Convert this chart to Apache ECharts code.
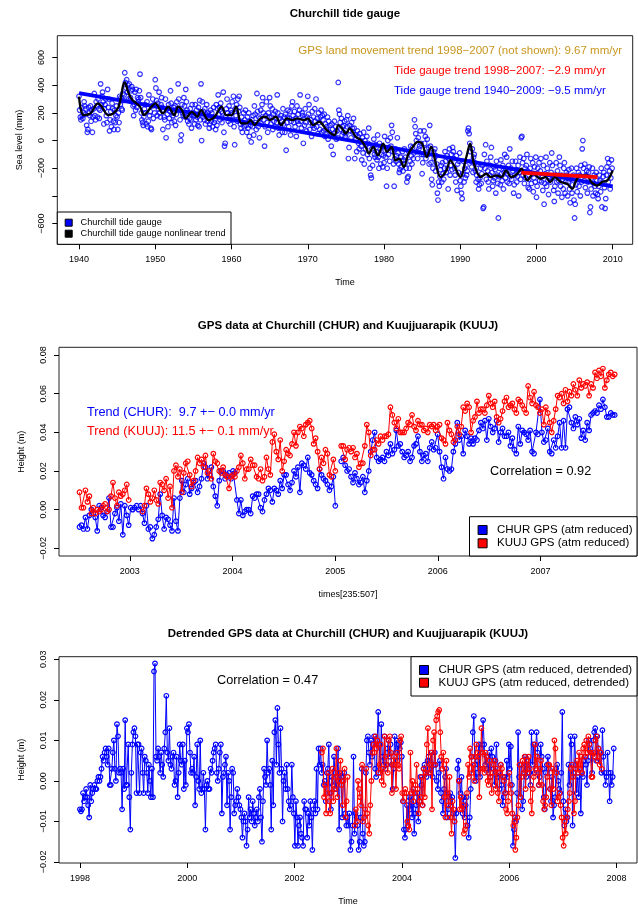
<!DOCTYPE html>
<html><head><meta charset="utf-8">
<script src="https://cdn.jsdelivr.net/npm/echarts@6/dist/echarts.min.js"></script>
<style>html,body{margin:0;padding:0;background:#fff}#c{width:638px;height:907px}</style>
</head><body><div id="c"></div>
<script>
// ---------- Panel 1: Churchill tide gauge (monthly, mm) ----------
const tideStartYear = 1940;
const tideMonthly = [
320,220,170,150,240,180,160,200,280,250,190,230,
110,60,80,240,200,180,250,140,220,60,170,230,
340,180,150,280,250,170,300,230,160,220,410,260,
320,350,280,120,230,260,300,180,130,370,240,300,
70,150,210,100,270,230,140,80,220,130,180,250,
170,80,200,130,320,260,310,230,220,340,290,330,
490,420,380,440,350,400,300,410,290,310,360,390,
370,250,180,260,350,220,370,240,310,280,300,360,
480,310,200,150,130,110,170,230,260,200,120,280,
100,140,330,180,210,90,80,250,300,160,260,200,
440,380,290,180,270,230,350,200,170,260,310,240,
80,220,170,150,300,20,230,190,100,260,160,210,
360,270,130,200,180,240,140,250,110,190,280,230,
410,300,220,150,0,40,260,200,180,310,250,170,
370,280,220,140,200,120,160,230,150,90,260,190,
200,180,120,260,150,220,170,110,240,100,290,150,
410,0,280,170,210,150,230,120,190,260,140,200,
180,90,120,220,140,200,100,170,240,130,150,80,
260,110,230,330,190,240,150,270,210,130,200,350,
60,-40,-20,170,230,300,200,140,250,180,120,220,
200,280,150,320,100,-30,230,180,260,140,300,210,
320,240,120,90,170,60,130,200,100,150,220,110,
60,170,90,200,30,140,110,-10,150,100,180,40,
250,190,130,80,340,210,100,170,20,160,220,120,
260,310,200,150,-40,100,180,280,130,60,200,170,
310,250,120,170,230,80,190,140,100,210,160,130,
330,200,90,40,160,110,180,140,60,230,120,170,
60,190,-70,130,170,220,100,160,210,40,140,250,
280,180,130,210,100,160,30,250,140,190,120,220,
330,140,90,200,180,-20,160,110,230,130,70,170,
320,190,260,80,130,150,30,210,110,170,90,230,
140,300,100,160,50,200,130,80,170,220,60,180,
150,70,190,30,120,80,100,170,10,140,60,110,
40,-40,120,80,-100,30,140,60,100,10,70,20,
420,220,190,130,80,160,40,100,60,110,140,30,
50,150,100,180,-130,-50,110,70,20,130,90,60,
160,90,-130,40,10,-80,70,30,-20,-60,50,0,
-40,-140,20,-90,60,-170,0,-60,-30,30,-100,-20,
90,-130,-200,-250,-270,-60,-180,-40,10,-100,-120,-30,
-80,-140,40,-120,-200,-20,-60,-170,-100,-40,-190,-110,
-160,30,-70,-120,-330,-200,0,-100,-50,-150,20,-40,
110,60,-80,-170,-330,-130,-60,-150,-110,20,-90,-170,
-230,-210,-120,-190,-150,-80,-220,-140,-60,-170,-120,-200,
-300,-270,-260,-80,-200,-150,-40,-110,-170,-50,-130,-90,
150,100,50,0,-80,-130,20,-60,-40,70,-20,-100,
-240,-160,-100,70,-20,30,-130,-60,10,-100,-50,-170,
110,-40,-160,-280,-320,-200,-80,-130,-60,-220,-110,-170,
-380,-430,-300,-330,-260,-210,-180,-300,-160,-240,-280,-200,
-80,-150,-230,-110,-200,-350,-130,-60,-250,-180,-100,-210,
-50,-80,-130,-200,-250,-300,-110,-360,-170,-230,-150,-90,
-290,-330,-380,-420,-240,-150,-300,-200,-270,-180,-250,-220,
70,90,50,-20,-80,-150,-190,-60,-230,-120,-100,-160,
-220,-300,-250,-170,-280,-350,-320,-270,-200,-310,-240,-180,
-490,-480,-100,-200,-30,-280,-150,-220,-300,-350,-250,-180,
-120,-50,-230,-330,-290,-190,-270,-210,-380,-150,-250,-310,
-560,-260,-200,-320,-140,-240,-290,-180,-350,-230,-100,-270,
-210,-120,-300,-240,-180,-310,-60,-260,-200,-280,-150,-220,
-380,-320,-250,-150,-210,-300,-260,-180,-400,-230,-120,-280,
20,30,-160,-250,-130,-310,-200,-270,-180,-100,-220,-340,
-280,-350,-200,-130,-310,-240,-160,-370,-270,-190,-300,-120,
-410,-330,-200,-250,-160,-290,-220,-130,-300,-260,-360,-180,
-460,-310,-240,-120,-330,-200,-290,-390,-270,-160,-300,-230,
-90,-180,-270,-360,-440,-330,-250,-160,-300,-220,-380,-290,
-120,-180,-330,-250,-410,-280,-350,-200,-160,-380,-300,-230,
-250,-400,-300,-210,-350,-450,-280,-200,-380,-320,-250,-430,
-560,-460,-320,-200,-370,-280,-230,-330,-250,-400,-180,-300,
-60,0,-200,-290,-170,-340,-250,-220,-380,-300,-230,-190,
-520,-480,-350,-270,-200,-400,-310,-250,-330,-380,-230,-290,
-390,-420,-330,-250,-290,-370,-200,-480,-300,-260,-230,-340,
-490,-420,-250,-190,-130,-300,-160,-220,-350,-270,-140,-200
];
const trendAllYears = [1940, 2010];
const trendAllLevel = [343, -332];
const trendRecentYears = [1998, 2008];
const trendRecentLevel = [-232, -264];
const nlYears = [1940,1940.6,1941.5,1942.5,1943,1943.8,1944.5,1945.2,1946,1946.5,1947,1948,1948.5,1949.5,1950,1951,1951.7,1952.5,1953,1953.5,1954,1954.8,1955.5,1956,1957,1957.8,1958.7,1959.3,1960,1960.6,1961.3,1962,1962.5,1963,1963.8,1964.5,1965,1965.8,1966.5,1967.3,1968,1968.6,1969.5,1970,1970.7,1971.5,1972.5,1973.5,1974,1974.5,1975,1975.5,1976.3,1977,1977.7,1978,1978.6,1979.2,1979.9,1980.4,1981,1981.5,1982,1982.6,1983.2,1983.8,1984.4,1985,1985.6,1986.2,1986.7,1987.4,1988.2,1988.7,1989.3,1990,1990.8,1991.3,1991.8,1992.7,1993.4,1994,1994.7,1995.4,1996,1996.7,1997.5,1998,1998.8,1999.6,2000.5,2001.2,2001.8,2002.4,2003.2,2004,2004.7,2005.2,2005.8,2006.6,2007.2,2008,2008.6,2009.3,2010];
const nlLevel = [318,184,196,269,245,184,196,245,420,342,293,245,184,245,269,196,245,184,245,220,160,208,172,220,148,172,245,184,184,245,124,124,148,112,160,172,148,172,112,160,148,160,148,160,112,136,75,39,112,87,51,87,27,2,-58,-95,-46,-107,-22,-82,-46,-143,-131,-192,-95,-46,-10,-22,-119,-46,-143,-264,-216,-143,-192,-264,-119,-22,-167,-264,-240,-264,-252,-264,-216,-264,-240,-204,-288,-240,-276,-264,-300,-264,-300,-313,-349,-288,-252,-252,-300,-325,-300,-288,-216];
const p1XTicks = [1940,1950,1960,1970,1980,1990,2000,2010];
const p1YTicks = [-600,-400,-200,0,200,400,600];
const p1YLabels = [-600,-200,0,200,400,600];

// ---------- Panel 2: GPS heights (weekly, m) ----------
const gpsStartYear = 2002.51;
const weekYears = 7 / 365.25;
const churHeight = [
-.009,-.008,-.010,-.004,-.010,-.003,.000,-.002,-.004,-.011,.002,.001,-.003,
-.004,-.001,.006,-.009,-.009,-.002,.001,-.006,.003,-.013,.002,-.003,-.008,
.001,.000,.001,.002,.000,.002,-.002,-.007,.002,-.010,-.009,-.015,-.013,
-.009,-.005,.008,-.003,-.010,-.004,-.005,-.008,-.011,.006,-.006,-.011,.006,
.015,.009,.013,.016,.008,.011,.014,.015,.009,.012,.016,.024,.022,
.016,.018,.022,.012,.007,.002,.015,.020,.020,.016,.018,.019,.016,
.020,.019,.005,-.002,.005,-.003,-.001,.000,.000,-.002,.007,.006,.008,
.008,.001,-.001,.005,.008,.011,.010,.004,.011,.010,.008,.015,.011,
.018,.018,.013,.010,.014,.020,.017,.022,.009,.024,.023,.021,.027,
.019,.018,.015,.013,.011,.021,.018,.016,.015,.013,.010,.012,.017,
.002,null,null,.025,.027,.023,.020,.021,.017,.014,.019,.016,.013,
.014,.017,.009,.015,.020,.030,.036,.040,.027,.025,.026,.027,.025,
.030,.028,.034,.029,.031,.041,.033,.034,.030,.027,.028,.030,.025,
.027,.033,.034,.038,.030,.025,.028,.029,.025,.032,.035,.031,.032,
.039,.030,.022,.016,.027,.021,.020,.021,.030,.034,.045,.036,.038,
.029,.041,.038,.034,.037,.034,.037,.036,.041,.045,.042,.046,.036,
.047,.043,.040,.042,.046,.035,.040,.042,.038,.038,.040,.033,.037,
.031,.029,.043,.034,.041,.040,.039,.036,.041,.030,.029,.040,.039,
.057,.040,.035,.036,.042,.030,.029,.036,.032,.038,.045,.032,.046,
.032,.052,.053,.045,.042,.048,.044,.047,.037,.041,.036,.045,.041,
.049,.050,.051,.050,.054,.052,.057,.053,.048,.048,.050,.049,.049
];
const kuujHeight = [
.009,.001,.001,.010,.004,.007,-.002,.001,-.002,.000,-.001,.000,.002,
.003,-.001,.000,.007,.014,.006,.002,.009,.007,.008,.010,.013,.005,
null,null,null,null,null,null,-.001,.002,.011,.008,.004,.006,.010,
.005,.003,.014,.013,.010,.016,.006,.012,.001,.020,.023,.017,.021,
.009,.019,.024,.025,.018,.012,.015,.020,.027,.024,.026,.022,.028,
.019,.020,.016,.029,.025,.024,.020,.019,.022,.018,.017,.011,.017,
.018,.017,.020,.022,.028,.024,.016,.021,.021,.026,.023,.023,.017,
.016,.021,.015,.017,.027,.021,.018,.035,.039,.030,.026,.036,.020,
.025,.031,.029,.028,.034,.040,.033,.040,.043,.042,.038,.044,.045,
.046,.042,.034,.037,.030,.021,.027,.024,.031,.029,.018,.017,.026,
.020,null,null,.033,.033,.026,.031,.032,.030,.032,.027,.029,.022,
.024,.024,.033,.044,.040,.028,.031,.031,.036,.034,.038,.036,.038,
.038,.039,.053,.049,.045,.042,.047,.040,.040,.040,.042,.045,.044,
.049,.043,.041,.046,.044,.044,.041,.042,.040,.044,.043,.044,.041,
.043,.044,.037,.036,.034,.045,.041,.039,.035,.036,.043,.039,.043,
.053,.051,.055,.053,.040,.046,.048,.056,.050,.052,.052,.050,.054,
.059,.055,.053,.056,.048,.045,.047,.051,.056,.058,.053,.054,.055,
.052,.050,.057,.056,.054,.052,.050,.064,.058,.055,.061,.054,.053,
.050,.052,.044,.053,.050,.045,.040,.046,.052,.059,.058,.060,.055,
.062,.056,.061,.059,.065,.062,.059,.067,.063,.065,.064,.066,.059,
.065,.063,.071,.068,.072,.069,.073,.063,.067,.070,.071,.069,.070
];
const p2XTicks = [2003,2004,2005,2006,2007];
const p2YTicks = [-0.02,0,0.02,0.04,0.06,0.08];

// ---------- Panel 3: detrended GPS heights (weekly, m) ----------
const churDetStartYear = 1998.0;
const churDetrended = [
-.007,-.0075,-.007,-.003,-.005,-.004,-.002,-.004,-.006,-.009,-.001,-.005,-.003,-.002,-.001,-.002,-.002,.000,.001,.000,.001,.003,.006,.005,.007,.008,
.006,.004,.008,-.001,-.001,.003,.007,.010,.003,.000,.014,.011,.002,.003,.002,-.007,.003,-.002,.015,-.001,-.001,.009,-.004,-.012,.002,.009,
.012,.013,.011,-.003,.009,.009,-.003,.007,.008,.002,-.003,.006,.005,.002,-.003,.004,.000,-.004,.003,-.004,.027,.029,.006,.005,.008,.006,
.002,.007,.004,.001,.008,.012,.021,.007,.005,.013,.004,.003,.006,.007,-.001,.000,.006,-.004,.002,.009,.005,.004,.009,-.002,.005,-.001,
.013,.012,.014,.007,.002,.003,.002,.006,-.006,.001,.009,.000,-.002,.010,-.003,-.002,.002,-.002,-.012,-.001,.000,-.002,-.002,.003,.002,.005,
.007,.008,.009,.002,.000,.003,.007,.009,-.008,.001,.002,.004,.006,-.006,.002,.000,-.012,-.004,.003,.002,-.008,-.006,-.005,-.002,-.004,-.006,
-.007,-.009,-.014,-.010,-.008,-.010,-.016,-.012,-.004,-.009,-.007,-.010,-.005,-.008,-.011,-.009,-.007,-.010,-.004,-.002,-.009,-.015,-.005,.003,.001,-.001,
.010,.002,.003,-.001,-.012,.005,-.006,.012,.015,.004,.018,.009,.002,.013,.003,-.010,.000,.002,-.002,.004,-.002,-.005,-.007,-.006,.004,-.004,
-.008,-.016,-.005,-.009,-.016,-.011,-.009,-.013,-.014,-.016,-.005,-.007,-.007,-.014,-.008,-.011,-.005,-.009,-.017,-.007,-.005,-.008,.003,-.007,.008,.004,
.008,.002,.004,-.001,.000,-.005,.002,.003,.009,-.003,-.007,.001,-.001,.006,.002,-.002,.000,.008,-.012,.002,.001,-.009,.001,.002,-.008,-.011,
-.009,-.011,-.008,-.017,-.015,-.011,.006,-.013,-.008,-.009,-.011,-.017,-.015,-.009,.003,-.013,-.016,-.015,.002,.010,.011,.007,.004,.010,.006,.009,
.011,.003,.001,.010,.017,.009,.002,.014,.006,.004,.011,.003,.004,.008,.010,.006,.009,.004,-.002,.003,.011,.007,.010,.005,.009,.008,
.0095,.006,-.005,-.012,-.014,-.012,-.006,-.011,-.004,-.007,-.004,-.009,-.002,-.013,-.008,-.006,-.003,-.010,-.005,.001,-.001,-.006,.003,.004,.002,.001,
.005,.006,.003,.002,.007,.001,.004,.007,.004,.000,-.002,.002,.005,-.003,-.005,-.008,-.002,.001,.003,-.009,-.007,-.004,-.003,-.006,-.004,-.008,
-.010,-.019,-.008,.003,.005,.000,-.003,.001,-.008,-.004,-.009,-.006,-.004,-.011,-.014,-.009,-.002,.006,.012,.016,.004,.000,.002,.005,.009,.001,
.008,.009,.015,.009,.004,.006,.003,.002,.007,.001,.008,.006,.003,-.001,.005,.009,.001,.002,-.002,.004,-.001,-.006,-.004,.001,-.003,.005,
.001,.009,.003,.0085,-.001,-.016,-.012,-.009,-.010,-.003,.012,.001,-.004,.004,-.007,-.005,.002,.006,.001,.003,.005,.002,-.001,.012,.004,.009,
.002,.008,.012,.007,-.001,.001,.009,.006,.003,-.004,-.007,.002,.004,.006,.003,-.002,-.005,.001,-.009,-.006,-.004,.003,.004,.000,-.002,-.003,
.002,.017,-.005,-.011,-.007,-.010,-.009,.004,-.001,.011,.009,-.011,.002,.011,.004,-.003,.001,-.004,.003,-.008,.002,.001,.005,.006,.004,-.001,
.005,.010,.008,.007,.002,.010,.012,.013,.005,.011,.008,.007,.007,.002,.0125,.006,.002,-.001,.001,.007,.002,-.005,.002,-.001,.001,.008
];
const kuujDetStartYear = 2002.51;
const kuujDetrended = [
.007,.008,-.004,-.001,-.008,-.003,.002,-.005,-.008,-.003,.003,-.005,-.002,.001,.008,-.004,.000,.002,.005,-.001,-.006,.000,.003,-.009,-.005,.001,
null,null,null,null,null,null,-.011,-.007,-.010,.000,-.002,-.004,-.006,.004,-.010,-.009,-.007,.003,-.008,-.011,-.013,-.006,.000,.007,.009,.007,
.011,.008,.010,.002,.004,.009,.000,.003,-.001,.011,.006,.004,.002,.010,.011,.007,-.003,.004,.006,.004,-.002,.007,.004,.003,.010,.011,
-.003,-.005,-.003,-.002,-.003,-.010,-.011,-.012,.007,-.003,.000,-.005,-.003,-.001,.004,-.002,-.008,-.005,-.004,.001,-.006,.003,-.004,.002,.009,.013,
.002,.004,.007,-.007,.010,.012,.004,.015,.016,.017,.0175,.012,.006,.003,.007,-.004,-.009,.005,-.003,-.006,.001,-.009,-.013,-.005,-.007,-.010,
null,null,null,.000,-.007,-.004,-.007,-.006,-.013,-.012,-.011,-.003,.004,.001,.008,.006,.002,.004,.000,.006,.009,.007,.006,-.004,.003,.013,
.007,.003,.002,.007,.006,.000,-.001,.005,.001,-.003,.002,.004,.005,-.002,.003,-.003,-.005,.002,.004,.003,.001,.000,-.003,-.007,-.008,-.005,
.002,-.001,-.003,-.008,-.011,-.010,-.017,-.014,-.009,-.006,.004,-.004,.001,.005,.002,.006,-.002,.005,.002,.006,.003,-.005,-.008,-.002,.001,.009,
.003,.006,.002,-.001,.003,.005,-.001,-.005,-.007,-.006,-.004,.001,.004,.004,-.002,-.006,.003,-.002,.010,.008,.002,-.005,-.004,-.003,-.006,-.009,
-.014,-.016,-.010,-.013,-.009,-.007,-.005,-.003,.003,.004,.001,-.008,-.005,.003,.005,.002,.007,.003,.006,.002,.008,.009,.006,.010,.007,.011,
.009,.007,.001,.001,.007,.006,.010,.011,.005,.008,.004,.007,.003
];
const p3XTicks = [1998,2000,2002,2004,2006,2008];
const p3YTicks = [-0.02,-0.01,0,0.01,0.02,0.03];

// ---------- build ----------
const FONT = '"Liberation Sans", Arial, Helvetica, sans-serif';
const BLUE = '#0000FF', RED = '#FF0000';
const minus = s => String(s).replace('-', '\u2212');

function weekly(start, arr) {
  return arr.map((v, i) => [start + i * weekYears, v === null ? '-' : v]);
}
function pairs(xs, ys) { return xs.map((x, i) => [x, ys[i]]); }

function xAx(grid, min, max, ticks, name) {
  return {
    type: 'value', gridIndex: grid, min: min, max: max, position: 'bottom',
    axisLine: {show: false, onZero: false},
    splitLine: {show: false},
    axisTick: {show: true, customValues: ticks, length: 5, lineStyle: {color: '#000', width: 1}},
    axisLabel: {customValues: ticks, margin: 11, fontSize: 9, fontFamily: FONT, color: '#000', formatter: v => minus(v)},
    name: name, nameLocation: 'middle', nameGap: 34,
    nameTextStyle: {fontSize: 9, fontFamily: FONT, color: '#000'}
  };
}
function yAx(grid, min, max, ticks, labels, name, fmt) {
  return {
    type: 'value', gridIndex: grid, min: min, max: max, position: 'left',
    axisLine: {show: false, onZero: false},
    splitLine: {show: false},
    axisTick: {show: true, customValues: ticks, length: 5, lineStyle: {color: '#000', width: 1}},
    axisLabel: {customValues: labels, rotate: 90, margin: 11, fontSize: 9, fontFamily: FONT, color: '#000', formatter: fmt},
    name: name, nameLocation: 'middle', nameGap: 33, nameRotate: 90,
    nameTextStyle: {fontSize: 9, fontFamily: FONT, color: '#000'}
  };
}
const gridBase = {show: true, borderColor: '#222', borderWidth: 1, backgroundColor: 'transparent', containLabel: false};

const openCircle = (c) => ({color: 'rgba(0,0,0,0)', borderColor: c, borderWidth: 1.2});

const series = [
  {type: 'scatter', name: 'Churchill tide gauge', xAxisIndex: 0, yAxisIndex: 0,
   data: tideMonthly.map((v, i) => [tideStartYear + i / 12, v]),
   symbol: 'circle', symbolSize: 4.6, itemStyle: openCircle(BLUE), z: 2},
  {type: 'line', name: 'Tide gauge trend 1940-2009', xAxisIndex: 0, yAxisIndex: 0,
   data: pairs(trendAllYears, trendAllLevel), symbol: 'none',
   lineStyle: {color: BLUE, width: 3.8}, z: 3},
  {type: 'line', name: 'Churchill tide gauge nonlinear trend', xAxisIndex: 0, yAxisIndex: 0,
   data: pairs(nlYears, nlLevel), symbol: 'none', smooth: 0.35,
   lineStyle: {color: '#000', width: 2.3}, z: 4},
  {type: 'line', name: 'Tide gauge trend 1998-2007', xAxisIndex: 0, yAxisIndex: 0,
   data: pairs(trendRecentYears, trendRecentLevel), symbol: 'none',
   lineStyle: {color: RED, width: 3.8}, z: 5},

  {type: 'line', name: 'CHUR GPS (atm reduced)', xAxisIndex: 1, yAxisIndex: 1,
   data: weekly(gpsStartYear, churHeight), symbol: 'circle', symbolSize: 4.6, showSymbol: true,
   itemStyle: openCircle(BLUE), lineStyle: {color: BLUE, width: 1}, connectNulls: false, z: 3},
  {type: 'line', name: 'KUUJ GPS (atm reduced)', xAxisIndex: 1, yAxisIndex: 1,
   data: weekly(gpsStartYear, kuujHeight), symbol: 'circle', symbolSize: 4.6, showSymbol: true,
   itemStyle: openCircle(RED), lineStyle: {color: RED, width: 1}, connectNulls: false, z: 4},

  {type: 'line', name: 'CHUR GPS (atm reduced, detrended)', xAxisIndex: 2, yAxisIndex: 2,
   data: weekly(churDetStartYear, churDetrended), symbol: 'circle', symbolSize: 4.6, showSymbol: true,
   itemStyle: openCircle(BLUE), lineStyle: {color: BLUE, width: 1}, connectNulls: false, z: 3},
  {type: 'line', name: 'KUUJ GPS (atm reduced, detrended)', xAxisIndex: 2, yAxisIndex: 2,
   data: weekly(kuujDetStartYear, kuujDetrended), symbol: 'circle', symbolSize: 4.6, showSymbol: true,
   itemStyle: openCircle(RED), lineStyle: {color: RED, width: 1}, connectNulls: false, z: 4}
];

function txt(x, y, text, size, color, align, bold) {
  return {type: 'text', x: x, y: y, z: 100, silent: true,
    style: {text: text, fill: color, align: align, verticalAlign: 'middle',
      font: (bold ? 'bold ' : '') + size + 'px ' + FONT}};
}
function legendBox(x0, y0, x1, y1, items, sq, sqX, textX, size) {
  const els = [{type: 'rect', z: 90, silent: true, shape: {x: x0, y: y0, width: x1 - x0, height: y1 - y0},
    style: {fill: '#fff', stroke: '#000', lineWidth: 1}}];
  items.forEach(it => {
    els.push({type: 'rect', z: 91, silent: true, shape: {x: sqX - sq / 2, y: it.y - sq / 2, width: sq, height: sq},
      style: {fill: it.color, stroke: '#000', lineWidth: 1}});
    els.push(txt(textX, it.y, it.label, size, '#000', 'left', false));
  });
  return els;
}

const graphics = [
  txt(345, 14, 'Churchill tide gauge', 11.5, '#000', 'center', true),
  txt(622, 50.5, 'GPS land movement trend 1998\u22122007 (not shown): 9.67 mm/yr', 11.5, '#C8961E', 'right', false),
  txt(394, 71, 'Tide gauge trend 1998\u22122007: \u22122.9 mm/yr', 11.5, RED, 'left', false),
  txt(394, 91.3, 'Tide gauge trend 1940\u22122009: \u22129.5 mm/yr', 11.5, BLUE, 'left', false),
  ...legendBox(57.3, 212, 231, 244.3, [
    {y: 222.7, color: BLUE, label: 'Churchill tide gauge'},
    {y: 233.7, color: '#000', label: 'Churchill tide gauge nonlinear trend'}], 7, 68.7, 80.6, 9.2),

  txt(348, 326, 'GPS data at Churchill (CHUR) and Kuujjuarapik (KUUJ)', 11.5, '#000', 'center', true),
  txt(87, 412.7, 'Trend (CHUR):  9.7 +\u2212 0.0 mm/yr', 12.7, BLUE, 'left', false),
  txt(87, 431.7, 'Trend (KUUJ): 11.5 +\u2212 0.1 mm/yr', 12.7, RED, 'left', false),
  txt(490, 471.7, 'Correlation = 0.92', 12.7, '#000', 'left', false),
  ...legendBox(469.5, 516.7, 637, 556, [
    {y: 530, color: BLUE, label: 'CHUR GPS (atm reduced)'},
    {y: 543.3, color: RED, label: 'KUUJ GPS (atm reduced)'}], 9, 482.6, 497, 11.5),

  txt(348, 634.3, 'Detrended GPS data at Churchill (CHUR) and Kuujjuarapik (KUUJ)', 11.5, '#000', 'center', true),
  txt(217, 680.7, 'Correlation = 0.47', 12.7, '#000', 'left', false),
  ...legendBox(411, 656.7, 637, 696, [
    {y: 670, color: BLUE, label: 'CHUR GPS (atm reduced, detrended)'},
    {y: 682.7, color: RED, label: 'KUUJ GPS (atm reduced, detrended)'}], 9, 424, 438.5, 11.5)
];

const option = {
  animation: false,
  backgroundColor: '#fff',
  grid: [
    Object.assign({}, gridBase, {left: 57.3, top: 35.7, width: 575.4, height: 208.6}),
    Object.assign({}, gridBase, {left: 59, top: 347.3, width: 578, height: 208.7}),
    Object.assign({}, gridBase, {left: 59, top: 656.7, width: 578, height: 207.6})
  ],
  xAxis: [
    xAx(0, 1937.15, 2012.62, p1XTicks, 'Time'),
    xAx(1, 2002.31, 2007.94, p2XTicks, 'times[235:507]'),
    xAx(2, 1997.61, 2008.38, p3XTicks, 'Time')
  ],
  yAxis: [
    yAx(0, -750, 758, p1YTicks, p1YLabels, 'Sea level (mm)', v => minus(v)),
    yAx(1, -0.024, 0.084, p2YTicks, p2YTicks, 'Height (m)', v => minus(Number(v).toFixed(2))),
    yAx(2, -0.02025, 0.03064, p3YTicks, p3YTicks, 'Height (m)', v => minus(Number(v).toFixed(2)))
  ],
  series: series,
  graphic: graphics
};
const chart = echarts.init(document.getElementById('c'));
chart.setOption(option);
</script></body></html>
